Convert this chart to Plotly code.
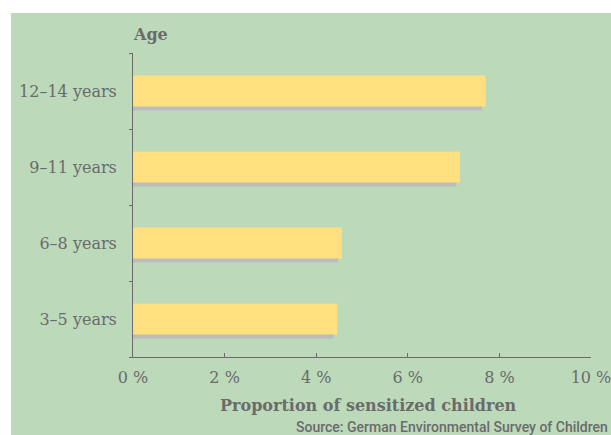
import plotly.graph_objects as go

# Age groups (bottom to top) and share of sensitized children in percent
age_groups = ["3–5 years", "6–8 years", "9–11 years", "12–14 years"]
sensitized_pct = [4.46, 4.56, 7.14, 7.70]

x_tick_values = [0, 2, 4, 6, 8, 10]
x_tick_labels = ["0 %", "2 %", "4 %", "6 %", "8 %", "10 %"]

W, H = 611, 435
M_L, M_R, M_T, M_B = 133, 20, 53, 78
PW = W - M_L - M_R
PH = H - M_T - M_B

TEXT = "#6b6b6b"
GREEN = "#bcd9ba"
YELLOW = "#ffe07e"
SHADOW = "#bcbcbc"
SERIF = "DejaVu Serif, Liberation Serif, serif"
SANS = "Roboto, Liberation Sans, sans-serif"


def px_x(x):
    return (x - M_L) / PW


def px_y(y):
    return (H - M_B - y) / PH


bar_w = 0.41
shadow_drop = 4 / (PH / len(age_groups))
shadow_trim = 0.08

fig = go.Figure()

# soft drop shadow under each bar
fig.add_trace(go.Bar(
    y=age_groups,
    x=[v - shadow_trim for v in sensitized_pct],
    orientation="h",
    width=bar_w,
    offset=-bar_w / 2 - shadow_drop,
    marker=dict(color=SHADOW, line=dict(width=0)),
    hoverinfo="skip",
    showlegend=False,
))

fig.add_trace(go.Bar(
    y=age_groups,
    x=sensitized_pct,
    orientation="h",
    width=bar_w,
    offset=-bar_w / 2,
    marker=dict(color=YELLOW, line=dict(width=0)),
    showlegend=False,
))

fig.update_layout(
    width=W,
    height=H,
    margin=dict(l=M_L, r=M_R, t=M_T, b=M_B, pad=0, autoexpand=False),
    paper_bgcolor="white",
    plot_bgcolor="rgba(0,0,0,0)",
    barmode="overlay",
    font=dict(family=SERIF, color=TEXT, size=16),
    shapes=[dict(
        type="rect", xref="paper", yref="paper", layer="below",
        x0=px_x(11), x1=px_x(W + 2), y0=px_y(13), y1=px_y(H + 2),
        fillcolor=GREEN, line=dict(width=0),
    )],
    xaxis=dict(
        range=[0, 10],
        tickvals=x_tick_values,
        ticktext=x_tick_labels,
        ticks="inside",
        ticklen=4,
        tickcolor=TEXT,
        showline=True,
        linecolor=TEXT,
        linewidth=1,
        showgrid=False,
        zeroline=False,
        automargin=False,
        ticklabeloverflow="allow",
        ticklabelstandoff=6,
        tickfont=dict(family=SERIF, size=16, color=TEXT),
        fixedrange=True,
    ),
    yaxis=dict(
        type="category",
        categoryorder="array",
        categoryarray=age_groups,
        range=[-0.5, len(age_groups) - 0.5],
        ticks="outside",
        tickson="boundaries",
        ticklen=3,
        tickcolor=TEXT,
        showline=True,
        linecolor=TEXT,
        linewidth=1,
        showgrid=False,
        zeroline=False,
        automargin=False,
        ticklabelstandoff=12,
        tickfont=dict(family=SERIF, size=16, color=TEXT),
        fixedrange=True,
    ),
    annotations=[
        dict(text="<b>Age</b>", xref="paper", yref="paper",
             x=px_x(131), y=px_y(34), xanchor="left", yanchor="middle",
             showarrow=False, font=dict(family=SERIF, size=16, color=TEXT)),
        dict(text="<b>Proportion of sensitized children</b>", xref="paper", yref="paper",
             x=px_x(368), y=px_y(405), xanchor="center", yanchor="middle",
             showarrow=False, font=dict(family=SERIF, size=16, color=TEXT)),
        dict(text="Source: German Environmental Survey of Children", xref="paper", yref="paper",
             x=px_x(610), y=px_y(427), xanchor="right", yanchor="middle",
             showarrow=False, font=dict(family=SANS, size=14, color=TEXT, weight=500)),
    ],
)

fig.write_html("out.html")
